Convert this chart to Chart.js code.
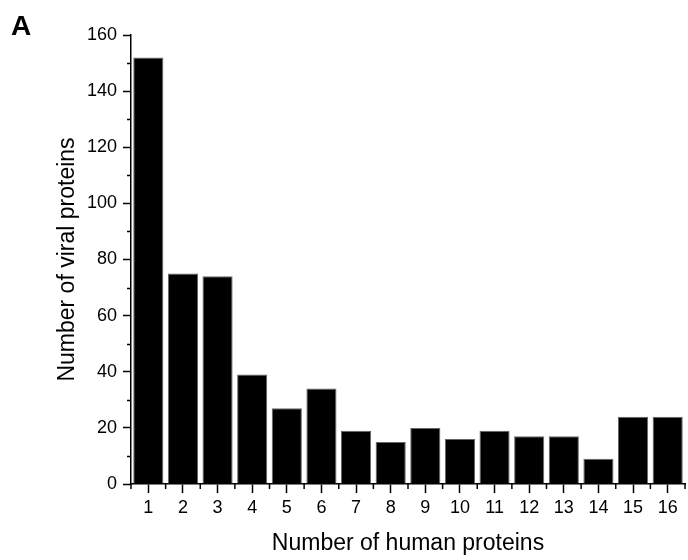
<!DOCTYPE html>
<html>
<head>
<meta charset="utf-8">
<script src="https://cdn.jsdelivr.net/npm/chart.js@4.4.1/dist/chart.umd.min.js"></script>
<style>
  html, body { margin: 0; padding: 0; background: #fff; }
  #wrap { width: 688px; height: 560px; position: relative; }
</style>
</head>
<body>
<div id="wrap"><canvas id="c" width="688" height="560"></canvas></div>
<script>
// Number of human proteins each viral protein interacts with
const humanProteinCounts = ['1','2','3','4','5','6','7','8','9','10','11','12','13','14','15','16'];
// Number of viral proteins for each count
const viralProteinCounts = [152, 75, 74, 39, 27, 34, 19, 15, 20, 16, 19, 17, 17, 9, 24, 24];
// Y axis range and steps
const yMin = 0, yMax = 160, yMajorStep = 20, yMinorStep = 10;

const FONT = "'Liberation Sans', Arial, sans-serif";

// Minor ticks on both axes and the panel letter
const extras = {
  id: 'extras',
  afterDraw(chart) {
    const { ctx, chartArea, scales: { x, y } } = chart;
    ctx.save();
    ctx.strokeStyle = '#000';
    ctx.lineWidth = 1.5;
    ctx.beginPath();
    for (let v = yMin + yMinorStep; v < yMax; v += yMajorStep) {
      const py = Math.round(y.getPixelForValue(v)) + 0.5;
      ctx.moveTo(chartArea.left - 4, py);
      ctx.lineTo(chartArea.left, py);
    }
    for (let i = 0; i <= humanProteinCounts.length; i++) {
      const px = x.getPixelForValue(i - 0.5);
      ctx.moveTo(px, chartArea.bottom);
      ctx.lineTo(px, chartArea.bottom + 5);
    }
    ctx.stroke();
    ctx.fillStyle = '#000';
    ctx.font = "bold 28px " + FONT;
    ctx.textBaseline = 'alphabetic';
    ctx.textAlign = 'left';
    ctx.fillText('A', 11, 35);
    ctx.restore();
  }
};

new Chart(document.getElementById('c'), {
  type: 'bar',
  data: {
    labels: humanProteinCounts,
    datasets: [{
      data: viralProteinCounts,
      backgroundColor: '#000',
      borderColor: '#666',
      borderWidth: 1,
      barPercentage: 0.87,
      categoryPercentage: 1.0
    }]
  },
  options: {
    responsive: false,
    animation: false,
    devicePixelRatio: 1,
    layout: { padding: { top: 35, right: 3, left: 0, bottom: 0 } },
    plugins: { legend: { display: false }, tooltip: { enabled: false } },
    scales: {
      x: {
        offset: true,
        grid: { display: true, offset: false, drawOnChartArea: false, tickLength: 9, tickColor: '#000', tickWidth: 1.5 },
        border: { display: true, color: '#000', width: 1.5 },
        ticks: { color: '#000', font: { family: FONT, size: 18 }, padding: 4, maxRotation: 0, autoSkip: false },
        title: { display: true, text: 'Number of human proteins', color: '#000', font: { family: FONT, size: 23 }, padding: { top: 0, bottom: 3 } },
        afterFit(scale) { scale.height = 76; }
      },
      y: {
        min: yMin, max: yMax,
        grid: { display: true, drawOnChartArea: false, tickLength: 8, tickColor: '#000', tickWidth: 1.5 },
        border: { display: true, color: '#000', width: 1.5 },
        ticks: { stepSize: yMajorStep, color: '#000', font: { family: FONT, size: 18 }, padding: 6 },
        title: { display: true, text: 'Number of viral proteins', color: '#000', font: { family: FONT, size: 23 }, padding: { top: 54, bottom: 0 } },
        afterFit(scale) { scale.width = 131; }
      }
    }
  },
  plugins: [extras]
});
</script>
</body>
</html>
